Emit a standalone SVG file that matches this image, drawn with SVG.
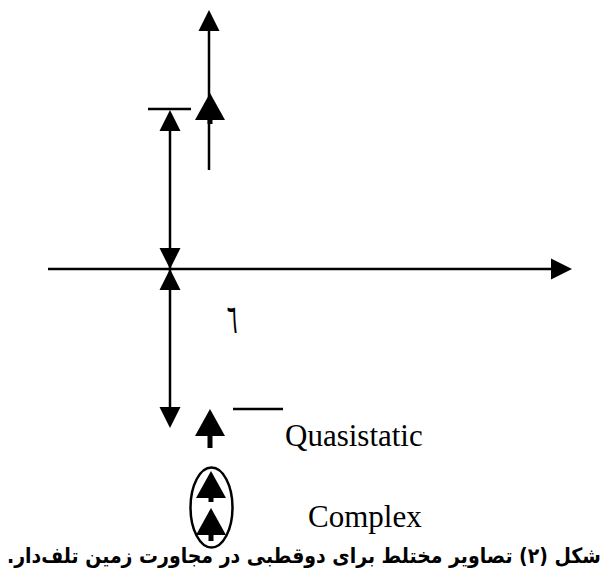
<svg xmlns="http://www.w3.org/2000/svg" xmlns:xlink="http://www.w3.org/1999/xlink" width="608" height="573" viewBox="0 0 608 573">
<style>
.ln{stroke:#000;stroke-width:2.5;fill:none}
.hd{fill:#000;stroke:none}
.lbl{font-family:"Liberation Serif","Times New Roman",serif;font-size:31px;fill:#000}
.cap{font-family:"DejaVu Sans Condensed","DejaVu Sans",sans-serif;font-weight:bold;font-size:21px;fill:#000}
</style>
<defs>
<path id="tri" d="M0,0 L-10.5,21 L10.5,21 Z"/>
<path id="tri2" d="M0,0 L-15,27 L15,27 Z"/>
</defs>
<rect width="608" height="573" fill="#fff"/>
<g id="connectors">
<line class="ln" x1="48" y1="269" x2="555" y2="269"/>
<use href="#tri" class="hd" transform="translate(572,269) rotate(90)"/>
<line class="ln" x1="170" y1="115" x2="170" y2="424"/>
<line class="ln" x1="148" y1="109" x2="191" y2="109"/>
<use href="#tri" class="hd" transform="translate(170,110)"/>
<use href="#tri" class="hd" transform="translate(170,269) rotate(180)"/>
<use href="#tri" class="hd" transform="translate(170,269)"/>
<use href="#tri" class="hd" transform="translate(170,428) rotate(180)"/>
<line class="ln" x1="209" y1="20" x2="209" y2="170"/>
<use href="#tri" class="hd" transform="translate(209,10)"/>
<use href="#tri2" class="hd" transform="translate(210,93)"/>
<line x1="210" y1="118" x2="210" y2="124" stroke="#000" stroke-width="5"/>
</g>
<g id="quasistatic">
<use href="#tri2" class="hd" transform="translate(210,409)"/>
<line x1="210" y1="434" x2="210" y2="448" stroke="#000" stroke-width="5"/>
<line class="ln" x1="233" y1="409" x2="283" y2="409"/>
<text class="lbl" x="285" y="446">Quasistatic</text>
</g>
<g id="complex">
<ellipse class="ln" cx="211.5" cy="507.5" rx="21" ry="40" stroke-width="2"/>
<use href="#tri2" class="hd" transform="translate(211,471)"/>
<line x1="211" y1="496" x2="211" y2="502" stroke="#000" stroke-width="5"/>
<use href="#tri2" class="hd" transform="translate(211,508)"/>
<line x1="211" y1="535" x2="211" y2="541" stroke="#000" stroke-width="5"/>
<text class="lbl" x="308" y="527">Complex</text>
</g>
<g id="label">
<text x="0" y="0" font-family="DejaVu Sans,sans-serif" font-size="40" text-anchor="middle" transform="translate(232,333) scale(0.5,1)">٦</text>
</g>
<g id="caption">
<text class="cap" x="304" y="563" text-anchor="middle" direction="rtl">شکل (۲) تصاویر مختلط برای دوقطبی در مجاورت زمین تلف‌دار.</text>
</g>
</svg>
